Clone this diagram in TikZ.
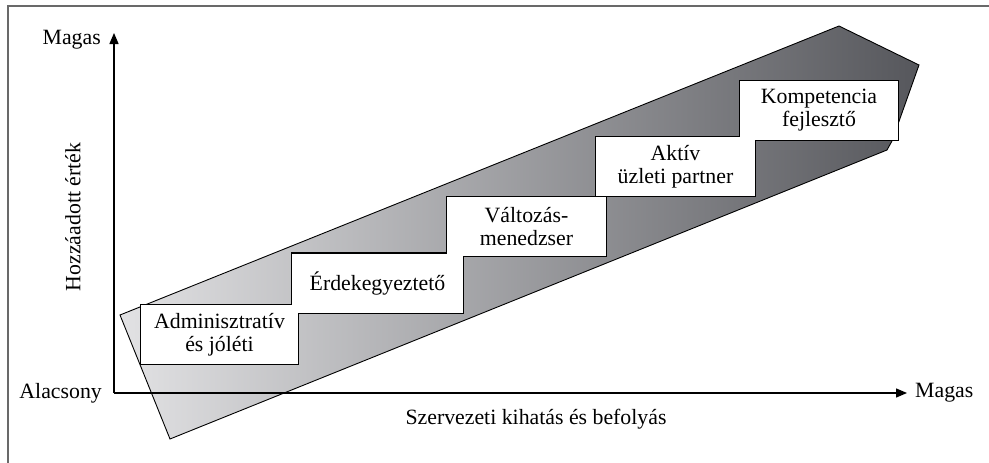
\documentclass[tikz,border=0pt]{standalone}
\usepackage{fontspec}
\setmainfont{Liberation Serif}
\usetikzlibrary{arrows.meta}
\definecolor{bandlight}{RGB}{226,226,228}
\definecolor{banddark}{RGB}{86,87,92}
\definecolor{framegray}{RGB}{105,105,105}
\pgfdeclarelayer{bandlayer}
\pgfdeclarelayer{edgelayer}
\pgfsetlayers{bandlayer,edgelayer,main}
\tikzset{
  every node/.style={font=\fontsize{21.8pt}{23pt}\selectfont},
  rolebox/.style={fill=white, inner sep=0pt, outer sep=0pt, align=center, minimum height=59pt},
  axislabel/.style={inner sep=0pt},
  axisline/.style={line width=1.3pt, -{Triangle[length=11pt,width=9pt]}},
  boxedge/.style={line width=2.6pt, line join=miter},
}
\begin{document}
\begin{tikzpicture}[x=1pt,y=-1pt]
\useasboundingbox (0,0) rectangle (989,463);
% frame
\draw[framegray, line width=1.6pt] (8,463) -- (8,6) -- (989,6);
% role boxes
\node[rolebox, minimum width=157pt] (admin) at (219.5,334.5) {Adminisztratív\\és jóléti};
\node[rolebox, minimum width=171pt] (erdek) at (377.5,283) {Érdekegyeztető};
\node[rolebox, minimum width=159pt] (valt) at (526.5,226.5) {Változás-\\menedzser};
\node[rolebox, minimum width=159pt] (aktiv) at (675.5,166.5) {Aktív\\üzleti partner};
\node[rolebox, minimum width=158pt] (komp) at (819,110.5) {Kompetencia\\fejlesztő};
\begin{pgfonlayer}{edgelayer}
\foreach \n in {admin,erdek,valt,aktiv,komp}
  \draw[boxedge] (\n.south west) rectangle (\n.north east);
\end{pgfonlayer}
% band
\begin{pgfonlayer}{bandlayer}
\coordinate (b1) at (120,315);
\coordinate (b2) at (839,26);
\coordinate (b3) at (919,65);
\coordinate (b4) at (892,141);
\coordinate (b5) at (887,150);
\coordinate (b6) at (170,439);
\draw[line width=0.9pt, left color=bandlight, right color=banddark]
  (b1) -- (b2) -- (b3) -- (b4) -- (b5) -- (b6) -- cycle;
\end{pgfonlayer}
% axes
\coordinate (O) at (114,393);
\coordinate (ytip) at (114,33);
\coordinate (xtip) at (907,393);
\draw[axisline] (O) -- (ytip);
\draw[axisline] (O) -- (xtip);
\node[axislabel, anchor=east] (ymax) at (101,40) {Magas};
\node[axislabel, anchor=east] (xmin) at (102,393) {Alacsony};
\node[axislabel, anchor=west] (xmax) at (915,393) {Magas};
\node[axislabel] (xlab) at (536,419) {Szervezeti kihatás és befolyás};
\node[axislabel, rotate=90] (ylab) at (73,217) {Hozzáadott érték};
\end{tikzpicture}
\end{document}
